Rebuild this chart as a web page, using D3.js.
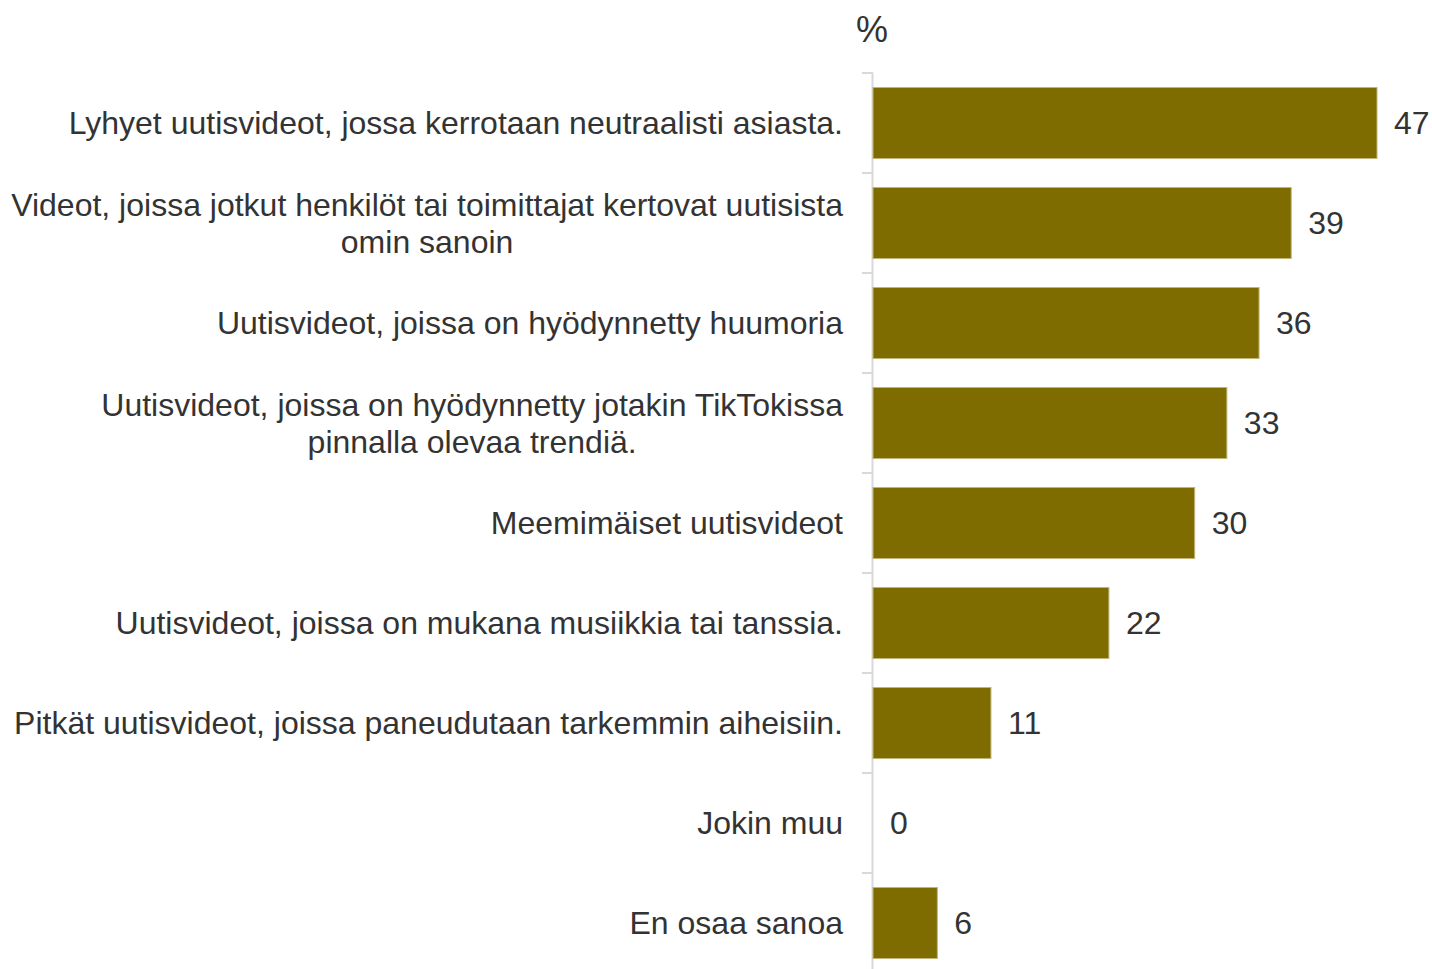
<!DOCTYPE html>
<html>
<head>
<meta charset="utf-8">
<script src="https://cdn.jsdelivr.net/npm/d3@7"></script>
<style>
  html, body { margin: 0; padding: 0; background: #fff; overflow: hidden; }
  svg { display: block; font-family: "Liberation Sans", Arial, sans-serif; }
</style>
</head>
<body>
<script>
const categories = [
  ['Lyhyet uutisvideot, jossa kerrotaan neutraalisti asiasta.'],
  ['Videot, joissa jotkut henkilöt tai toimittajat kertovat uutisista', 'omin sanoin'],
  ['Uutisvideot, joissa on hyödynnetty huumoria'],
  ['Uutisvideot, joissa on hyödynnetty jotakin TikTokissa', 'pinnalla olevaa trendiä.'],
  ['Meemimäiset uutisvideot'],
  ['Uutisvideot, joissa on mukana musiikkia tai tanssia.'],
  ['Pitkät uutisvideot, joissa paneudutaan tarkemmin aiheisiin.'],
  ['Jokin muu'],
  ['En osaa sanoa']
];
const values = [47, 39, 36, 33, 30, 22, 11, 0, 6];
const unitLabel = '%';

const width = 1432;
const height = 969;
const margin = { top: 73, left: 873 };
const innerHeight = 900;

const data = categories.map((c, i) => ({ lines: c, value: values[i], key: i }));

const svg = d3.select('body').append('svg')
  .attr('width', width)
  .attr('height', height)
  .attr('viewBox', `0 0 ${width} ${height}`);

const xScale = d3.scaleLinear()
  .domain([0, 47])
  .range([margin.left, margin.left + 504]);

const yScale = d3.scaleBand()
  .domain(data.map(d => d.key))
  .range([margin.top, margin.top + innerHeight])
  .paddingInner(0.29)
  .paddingOuter(0.145);

// axis line with ticks at category boundaries
svg.append('line')
  .attr('x1', margin.left - 0.5).attr('x2', margin.left - 0.5)
  .attr('y1', margin.top).attr('y2', height)
  .attr('stroke', '#d9d9d9')
  .attr('stroke-width', 2);

const step = yScale.step();
svg.selectAll('.tick-line').data(d3.range(data.length))
  .enter().append('line')
  .attr('class', 'tick-line')
  .attr('x1', margin.left - 11).attr('x2', margin.left)
  .attr('y1', i => margin.top + i * step).attr('y2', i => margin.top + i * step)
  .attr('stroke', '#d9d9d9')
  .attr('stroke-width', 2);

svg.selectAll('rect.bar').data(data.filter(d => d.value > 0))
  .enter().append('rect')
  .attr('class', 'bar')
  .attr('x', xScale(0))
  .attr('y', d => yScale(d.key))
  .attr('width', d => xScale(d.value) - xScale(0))
  .attr('height', yScale.bandwidth())
  .attr('fill', '#7f6c00')
  .attr('stroke', '#c2b47a')
  .attr('stroke-width', 1);

svg.selectAll('text.value').data(data)
  .enter().append('text')
  .attr('class', 'value')
  .attr('x', d => xScale(d.value) + 17)
  .attr('y', d => yScale(d.key) + yScale.bandwidth() / 2 + 11)
  .style('font-size', '32px')
  .attr('fill', '#333')
  .text(d => d.value);

// category labels: right aligned block, wrapped lines centred on each other
const labelRight = margin.left - 30;
const lineH = 37;
const fontSize = 32;

const probe = svg.append('text').style('font-size', fontSize + 'px');
const textWidth = s => probe.text(s).node().getComputedTextLength();

data.forEach(d => {
  const cy = yScale(d.key) + yScale.bandwidth() / 2;
  const n = d.lines.length;
  const maxW = d3.max(d.lines, textWidth);
  d.lines.forEach((line, j) => {
    svg.append('text')
      .attr('class', 'cat')
      .attr('x', labelRight - maxW / 2)
      .attr('y', cy + (j - (n - 1) / 2) * lineH + 11)
      .attr('text-anchor', 'middle')
      .style('font-size', fontSize + 'px')
      .attr('fill', '#333')
      .text(line);
  });
});
probe.remove();

svg.append('text')
  .attr('class', 'unit')
  .attr('x', margin.left - 1)
  .attr('y', 42)
  .attr('text-anchor', 'middle')
  .style('font-size', '36px')
  .attr('fill', '#333')
  .text(unitLabel);
</script>
</body>
</html>
